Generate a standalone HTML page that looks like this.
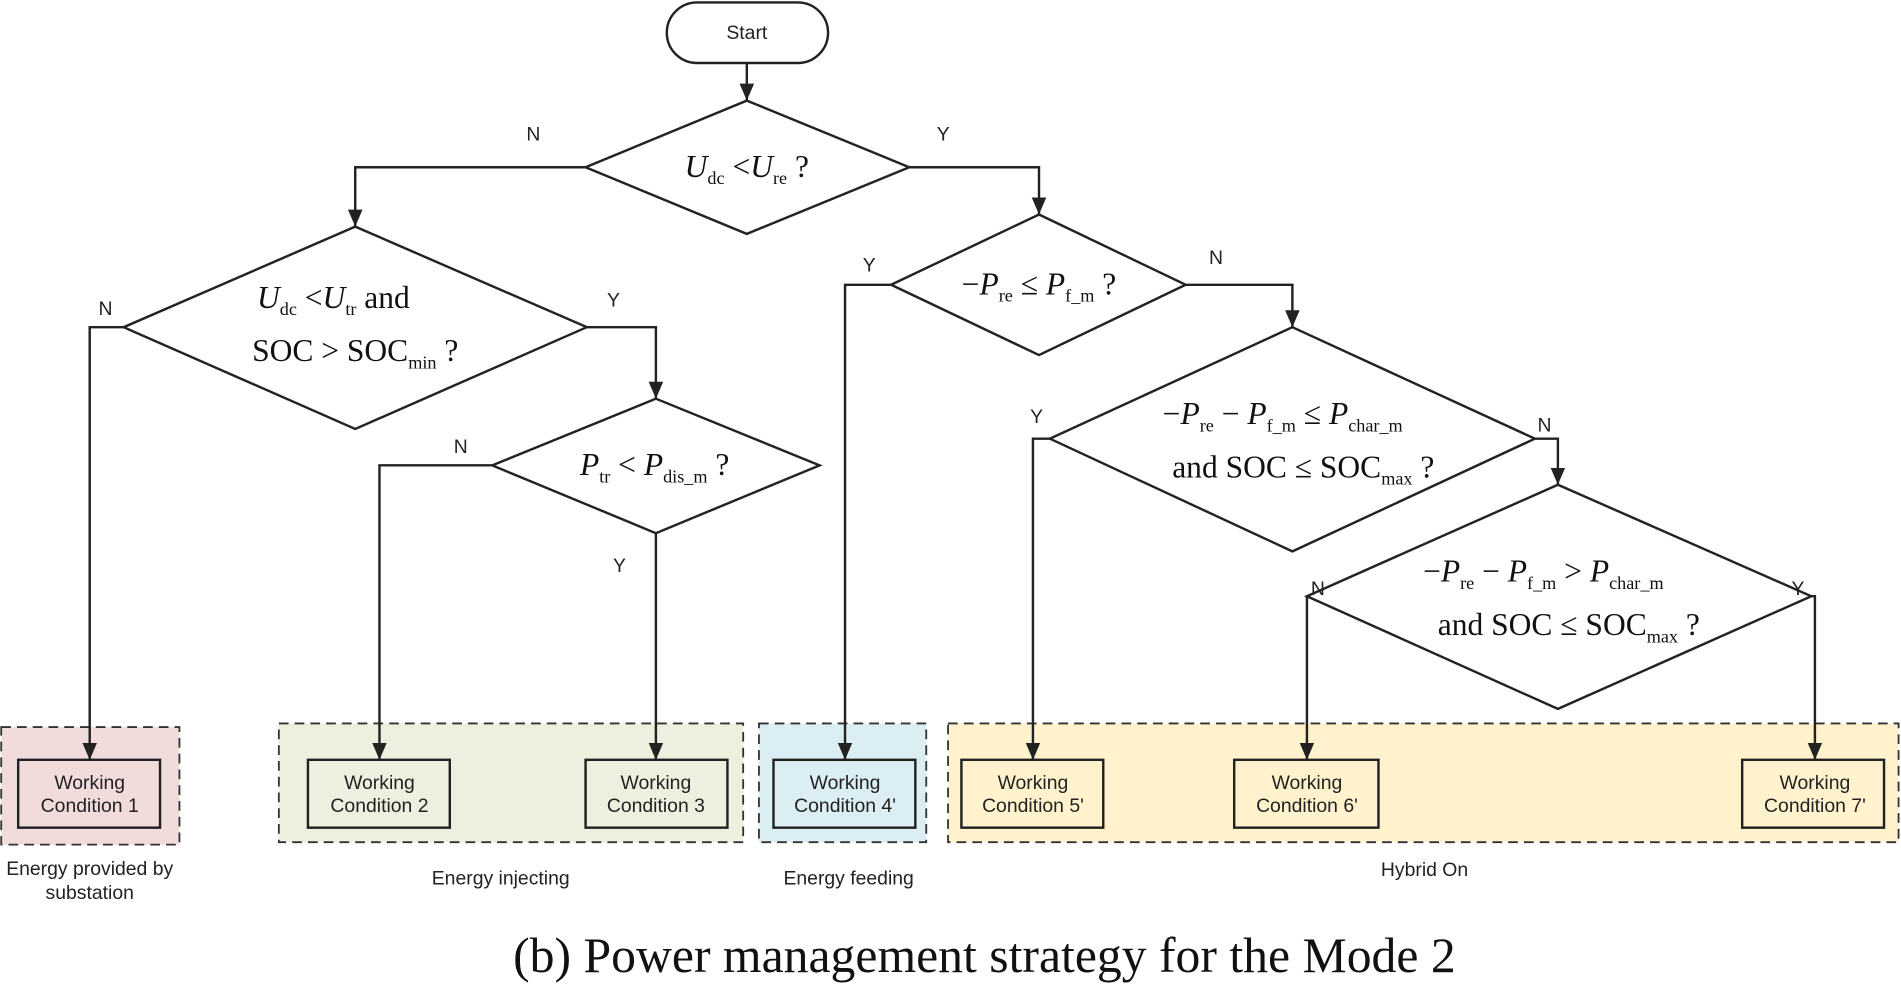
<!DOCTYPE html>
<html><head><meta charset="utf-8"><style>
html,body{margin:0;padding:0;background:#fff;}
svg{display:block;}
.s{font-family:"Liberation Sans",sans-serif;font-size:16px;fill:#222;}
.m{font-family:"Liberation Serif",serif;font-size:26px;fill:#111;}
.i{font-style:italic;}
.sub{font-size:15px;}
</style></head><body>
<svg width="1901" height="984" viewBox="0 0 1568 812" preserveAspectRatio="none" xmlns="http://www.w3.org/2000/svg">
<defs>
<marker id="ar" viewBox="0 0 14 12" refX="14" refY="6" markerWidth="14" markerHeight="12" orient="auto" markerUnits="userSpaceOnUse"><path d="M0,0 L14,6 L0,12 z" fill="#222"/></marker></defs>
<g stroke="#333" stroke-width="1.5" stroke-dasharray="8,5">
<rect x="1" y="600" width="147" height="97" fill="#f2dcdb"/>
<rect x="230" y="597" width="383" height="98" fill="#ebf1de"/>
<rect x="626" y="597" width="138" height="98" fill="#dbeef4"/>
<rect x="782" y="597" width="784" height="98" fill="#fff2cc"/>
</g>
<g fill="none" stroke="#222" stroke-width="2">
<rect x="550" y="2" width="133" height="50" rx="25" fill="#fff"/>
<polygon points="616,83 750,138 616,193 483,138"/>
<polygon points="293,187 484,270 293,354 102,270"/>
<polygon points="541,329 676,384 541,440 406,384"/>
<polygon points="857,177 978,235 857,293 735,235"/>
<polygon points="1066,270 1266,362 1066,455 866,362"/>
<polygon points="1285,400 1494,492 1285,585 1078,492"/>
<rect x="15" y="627" width="117" height="56"/>
<rect x="254" y="627" width="117" height="56"/>
<rect x="483" y="627" width="117" height="56"/>
<rect x="638" y="627" width="117" height="56"/>
<rect x="793" y="627" width="117" height="56"/>
<rect x="1018" y="627" width="119" height="56"/>
<rect x="1437" y="627" width="117" height="56"/>
</g>
<g fill="none" stroke="#222" stroke-width="2" marker-end="url(#ar)">
<path d="M616,52 V83"/>
<path d="M483,138 H293 V187"/>
<path d="M750,138 H857 V177"/>
<path d="M102,270 H74 V627"/>
<path d="M484,270 H541 V329"/>
<path d="M406,384 H313 V627"/>
<path d="M541,440 V627"/>
<path d="M735,235 H697 V627"/>
<path d="M978,235 H1066 V270"/>
<path d="M866,362 H852 V627"/>
<path d="M1266,362 H1285 V400"/>
<path d="M1078,492 V627"/>
<path d="M1494,492 H1497 V627"/>
</g>
<g class="s" text-anchor="middle">
<text x="616" y="32">Start</text>
<text x="440" y="116">N</text><text x="778" y="116">Y</text>
<text x="87" y="260">N</text><text x="506" y="253">Y</text>
<text x="380" y="374">N</text><text x="511" y="472">Y</text>
<text x="717" y="224">Y</text><text x="1003" y="218">N</text>
<text x="855" y="349">Y</text><text x="1274" y="356">N</text>
<text x="1087" y="491">N</text><text x="1483" y="491">Y</text>
<text x="74" y="651">Working</text><text x="74" y="670">Condition 1</text>
<text x="313" y="651">Working</text><text x="313" y="670">Condition 2</text>
<text x="541" y="651">Working</text><text x="541" y="670">Condition 3</text>
<text x="697" y="651">Working</text><text x="697" y="670">Condition 4'</text>
<text x="852" y="651">Working</text><text x="852" y="670">Condition 5'</text>
<text x="1078" y="651">Working</text><text x="1078" y="670">Condition 6'</text>
<text x="1497" y="651">Working</text><text x="1497" y="670">Condition 7'</text>
<text x="74" y="722">Energy provided by</text><text x="74" y="742">substation</text>
<text x="413" y="730">Energy injecting</text>
<text x="700" y="730">Energy feeding</text>
<text x="1175" y="723">Hybrid On</text>
</g>
<g class="m" text-anchor="middle">
<text x="616" y="146"><tspan class="i">U</tspan><tspan class="sub" dy="6">dc</tspan><tspan dy="-6"> &lt;</tspan><tspan class="i">U</tspan><tspan class="sub" dy="6">re</tspan><tspan dy="-6"> ?</tspan></text>
<text x="275" y="254"><tspan class="i">U</tspan><tspan class="sub" dy="6">dc</tspan><tspan dy="-6"> &lt;</tspan><tspan class="i">U</tspan><tspan class="sub" dy="6">tr</tspan><tspan dy="-6">  and</tspan></text>
<text x="293" y="298">SOC &gt; SOC<tspan class="sub" dy="6">min</tspan><tspan dy="-6"> ?</tspan></text>
<text x="540" y="392"><tspan class="i">P</tspan><tspan class="sub" dy="6">tr</tspan><tspan dy="-6"> &lt; </tspan><tspan class="i">P</tspan><tspan class="sub" dy="6">dis_m</tspan><tspan dy="-6"> ?</tspan></text>
<text x="857" y="243">−<tspan class="i">P</tspan><tspan class="sub" dy="6">re</tspan><tspan dy="-6"> ≤ </tspan><tspan class="i">P</tspan><tspan class="sub" dy="6">f_m</tspan><tspan dy="-6"> ?</tspan></text>
<text x="1058" y="350">−<tspan class="i">P</tspan><tspan class="sub" dy="6">re</tspan><tspan dy="-6"> − </tspan><tspan class="i">P</tspan><tspan class="sub" dy="6">f_m</tspan><tspan dy="-6"> ≤ </tspan><tspan class="i">P</tspan><tspan class="sub" dy="6">char_m</tspan></text>
<text x="1075" y="394">and SOC ≤ SOC<tspan class="sub" dy="6">max</tspan><tspan dy="-6"> ?</tspan></text>
<text x="1273" y="480">−<tspan class="i">P</tspan><tspan class="sub" dy="6">re</tspan><tspan dy="-6"> − </tspan><tspan class="i">P</tspan><tspan class="sub" dy="6">f_m</tspan><tspan dy="-6"> &gt; </tspan><tspan class="i">P</tspan><tspan class="sub" dy="6">char_m</tspan></text>
<text x="1294" y="524">and SOC ≤ SOC<tspan class="sub" dy="6">max</tspan><tspan dy="-6"> ?</tspan></text>
<text x="812" y="802" style="font-size:41px">(b) Power management strategy for the Mode 2</text>
</g>
</svg>
</body></html>
